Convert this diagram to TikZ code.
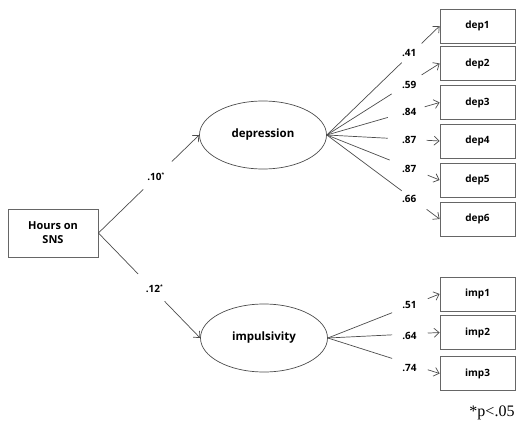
\documentclass[tikz,border=0pt]{standalone}
\usepackage{fontspec}
\setmainfont{Open Sans}
\newfontfamily\timesf{Liberation Serif}
\usetikzlibrary{arrows.meta,calc,shapes.geometric}
\begin{document}
\begin{tikzpicture}[x=1pt,y=-1pt,
  line/.style={draw=black!70, line width=0.7pt},
  arr/.style={line, -{Straight Barb[length=5pt,width=9pt,line width=0.7pt]}},
  obs/.style={draw=black!60, line width=0.8pt, minimum width=75pt, minimum height=34pt, inner sep=0pt, font=\bfseries\fontsize{10}{12}\selectfont},
  lat/.style={draw=black!70, line width=0.7pt, ellipse, minimum width=127pt, minimum height=68pt, inner sep=0pt, font=\bfseries\fontsize{11.5}{13}\selectfont},
  srcbox/.style={draw=black!60, line width=0.8pt, minimum width=90pt, minimum height=48pt, inner sep=0pt, align=center, font=\bfseries\fontsize{11}{14}\selectfont},
  lab/.style={inner sep=0pt, font=\bfseries\fontsize{10}{12}\selectfont},
  note/.style={inner sep=0pt, font=\timesf\fontsize{16}{18}\selectfont}
]
\useasboundingbox (0,0) rectangle (516,433);
\newcommand{\sig}{\raisebox{4pt}{\fontsize{5}{5}\selectfont *}}

\node[srcbox] (sns) at (53,233) {Hours on\\SNS};
\node[lat] (dep) at (263,135) {depression};
\node[lat] (imp) at (264,338) {impulsivity};

\node[obs] (d1) at (477.5,26) {dep1};
\node[obs] (d2) at (477.5,63.5) {dep2};
\node[obs] (d3) at (477.5,102.5) {dep3};
\node[obs] (d4) at (477.5,141) {dep4};
\node[obs] (d5) at (477.5,180) {dep5};
\node[obs] (d6) at (477.5,219) {dep6};
\node[obs] (i1) at (477.5,294) {imp1};
\node[obs] (i2) at (477.5,332.5) {imp2};
\node[obs] (i3) at (477.5,373.5) {imp3};

% structural paths
\draw[line] (sns.east) -- ($(sns.east)!0.445!(dep.west)$);
\draw[arr] ($(sns.east)!0.73!(dep.west)$) -- (dep.west);
\node[lab] (b1) at ($(sns.east)!0.57!(dep.west)$) {.10\sig};
\draw[line] (sns.east) -- ($(sns.east)!0.39!(imp.west)$);
\draw[arr] ($(sns.east)!0.65!(imp.west)$) -- (imp.west);
\node[lab] (b2) at ($(sns.east)!0.55!(imp.west)$) [yshift=2pt] {.12\sig};

% loadings
\foreach \t/\e/\s/\v/\dy in {d1/0.664/0.84/.41/2, d2/0.575/0.84/.59/-2, d3/0.54/0.867/.84/-1, d4/0.54/0.885/.87/-1, d5/0.557/0.894/.87/-1, d6/0.664/0.885/.66/-3}{
  \draw[line] (dep.east) -- ($(dep.east)!\e!(\t.west)$);
  \draw[arr] ($(dep.east)!\s!(\t.west)$) -- (\t.west);
  \node[lab] (l\t) at ($(dep.east)!0.73!(\t.west)$) [yshift=\dy pt] {\v};
}
\foreach \t/\e/\s/\v/\dy in {i1/0.575/0.894/.51/1, i2/0.575/0.894/.64/-2, i3/0.575/0.894/.74/-4}{
  \draw[line] (imp.east) -- ($(imp.east)!\e!(\t.west)$);
  \draw[arr] ($(imp.east)!\s!(\t.west)$) -- (\t.west);
  \node[lab] (l\t) at ($(imp.east)!0.73!(\t.west)$) [yshift=\dy pt] {\v};
}

\node[note] (pnote) at (492,413) {*p\textless.05};
\end{tikzpicture}
\end{document}
